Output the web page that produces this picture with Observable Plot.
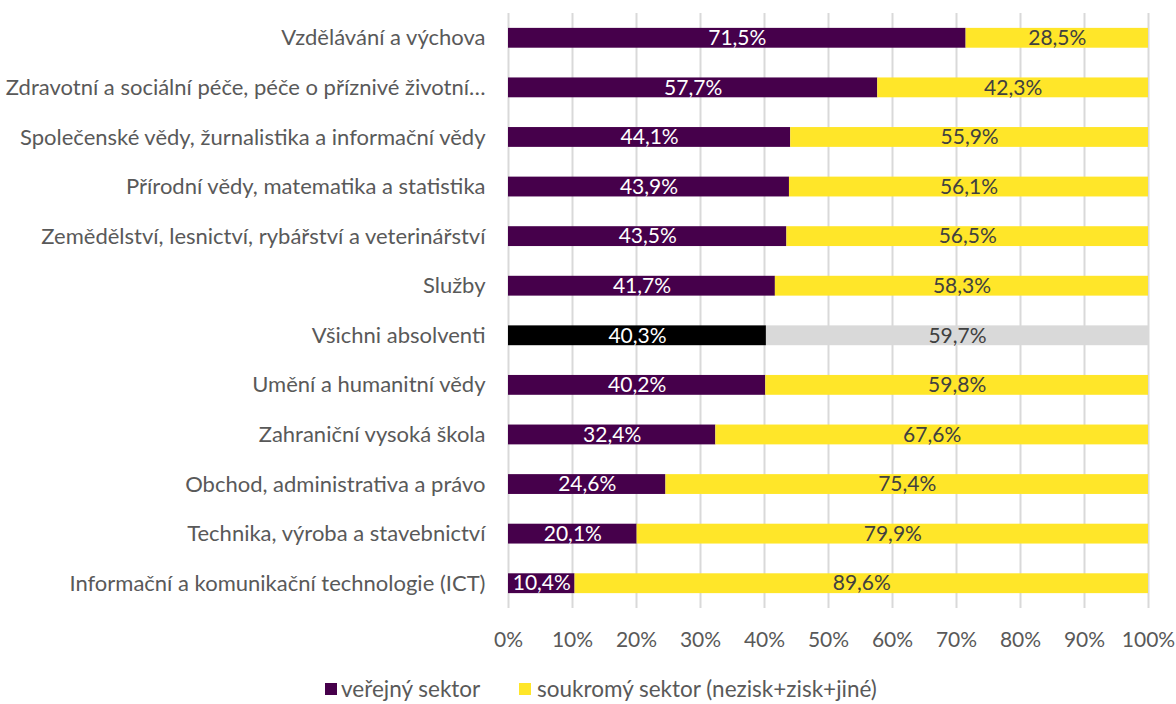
<!DOCTYPE html>
<html>
<head>
<meta charset="utf-8">
<script src="https://cdn.jsdelivr.net/npm/d3@7"></script>
<script src="https://cdn.jsdelivr.net/npm/@observablehq/plot@0.6"></script>
<style>
  body { margin: 0; background: #fff; font-family: Lato, "Open Sans", sans-serif; }
  #legend { position: relative; height: 44px; font-size: 22.5px; color: #595959; }
  .sw { position: absolute; top: 23px; width: 12px; height: 12px; }
  .lt { position: absolute; top: 17px; line-height: 24px; white-space: nowrap; }
</style>
</head>
<body>
<div id="chart"></div>
<div id="legend">
  <div class="sw" style="left:325px;background:#46004b"></div>
  <div class="lt" style="left:341px">veřejný sektor</div>
  <div class="sw" style="left:519px;background:#ffe629"></div>
  <div class="lt" style="left:537px">soukromý sektor (nezisk+zisk+jiné)</div>
</div>
<script>
const categories = [
  "Vzdělávání a výchova",
  "Zdravotní a sociální péče, péče o příznivé životní…",
  "Společenské vědy, žurnalistika a informační vědy",
  "Přírodní vědy, matematika a statistika",
  "Zemědělství, lesnictví, rybářství a veterinářství",
  "Služby",
  "Všichni absolventi",
  "Umění a humanitní vědy",
  "Zahraniční vysoká škola",
  "Obchod, administrativa a právo",
  "Technika, výroba a stavebnictví",
  "Informační a komunikační technologie (ICT)"
];
const verejny = [71.5, 57.7, 44.1, 43.9, 43.5, 41.7, 40.3, 40.2, 32.4, 24.6, 20.1, 10.4];
const soukromy = [28.5, 42.3, 55.9, 56.1, 56.5, 58.3, 59.7, 59.8, 67.6, 75.4, 79.9, 89.6];
const series = ["veřejný sektor", "soukromý sektor (nezisk+zisk+jiné)"];
const xTicks = [0, 10, 20, 30, 40, 50, 60, 70, 80, 90, 100];
const highlight = "Všichni absolventi";

const rows = [];
categories.forEach((c, i) => {
  rows.push({cat: c, series: series[0], value: verejny[i]});
  rows.push({cat: c, series: series[1], value: soukromy[i]});
});
const keyOf = d => (d.cat === highlight ? "h-" : "n-") + (d.series === series[0] ? "pub" : "priv");
const fmt = v => v.toFixed(1).replace(".", ",") + "%";

const chart = Plot.plot({
  width: 1176,
  height: 660,
  marginLeft: 508,
  marginRight: 28,
  marginTop: 13,
  marginBottom: 52,
  style: {fontFamily: "Lato, 'Open Sans', sans-serif", fontSize: "22px", color: "#595959", background: "#fff"},
  x: {domain: [0, 100], label: null},
  y: {domain: categories, paddingInner: 0.6, paddingOuter: 0.3, round: false, tickSize: 0, tickPadding: 23, label: null},
  color: {domain: ["n-pub", "n-priv", "h-pub", "h-priv"], range: ["#46004b", "#ffe629", "#000000", "#d9d9d9"]},
  marks: [
    Plot.ruleX(xTicks, {stroke: "#d9d9d9", strokeWidth: 2}),
    Plot.barX(rows, Plot.stackX({y: "cat", x: "value", fill: keyOf, order: series})),
    Plot.axisX({ticks: xTicks, tickFormat: d => d + "%", tickSize: 0, tickPadding: 24, fontSize: 21, label: null}),
    Plot.text(rows, Plot.stackX({
      y: "cat", x: "value", order: series,
      text: d => fmt(d.value),
      fill: d => d.series === series[0] ? "#ffffff" : "#404040",
      fontSize: 21
    }))
  ]
});
document.getElementById("chart").appendChild(chart);
</script>
</body>
</html>
